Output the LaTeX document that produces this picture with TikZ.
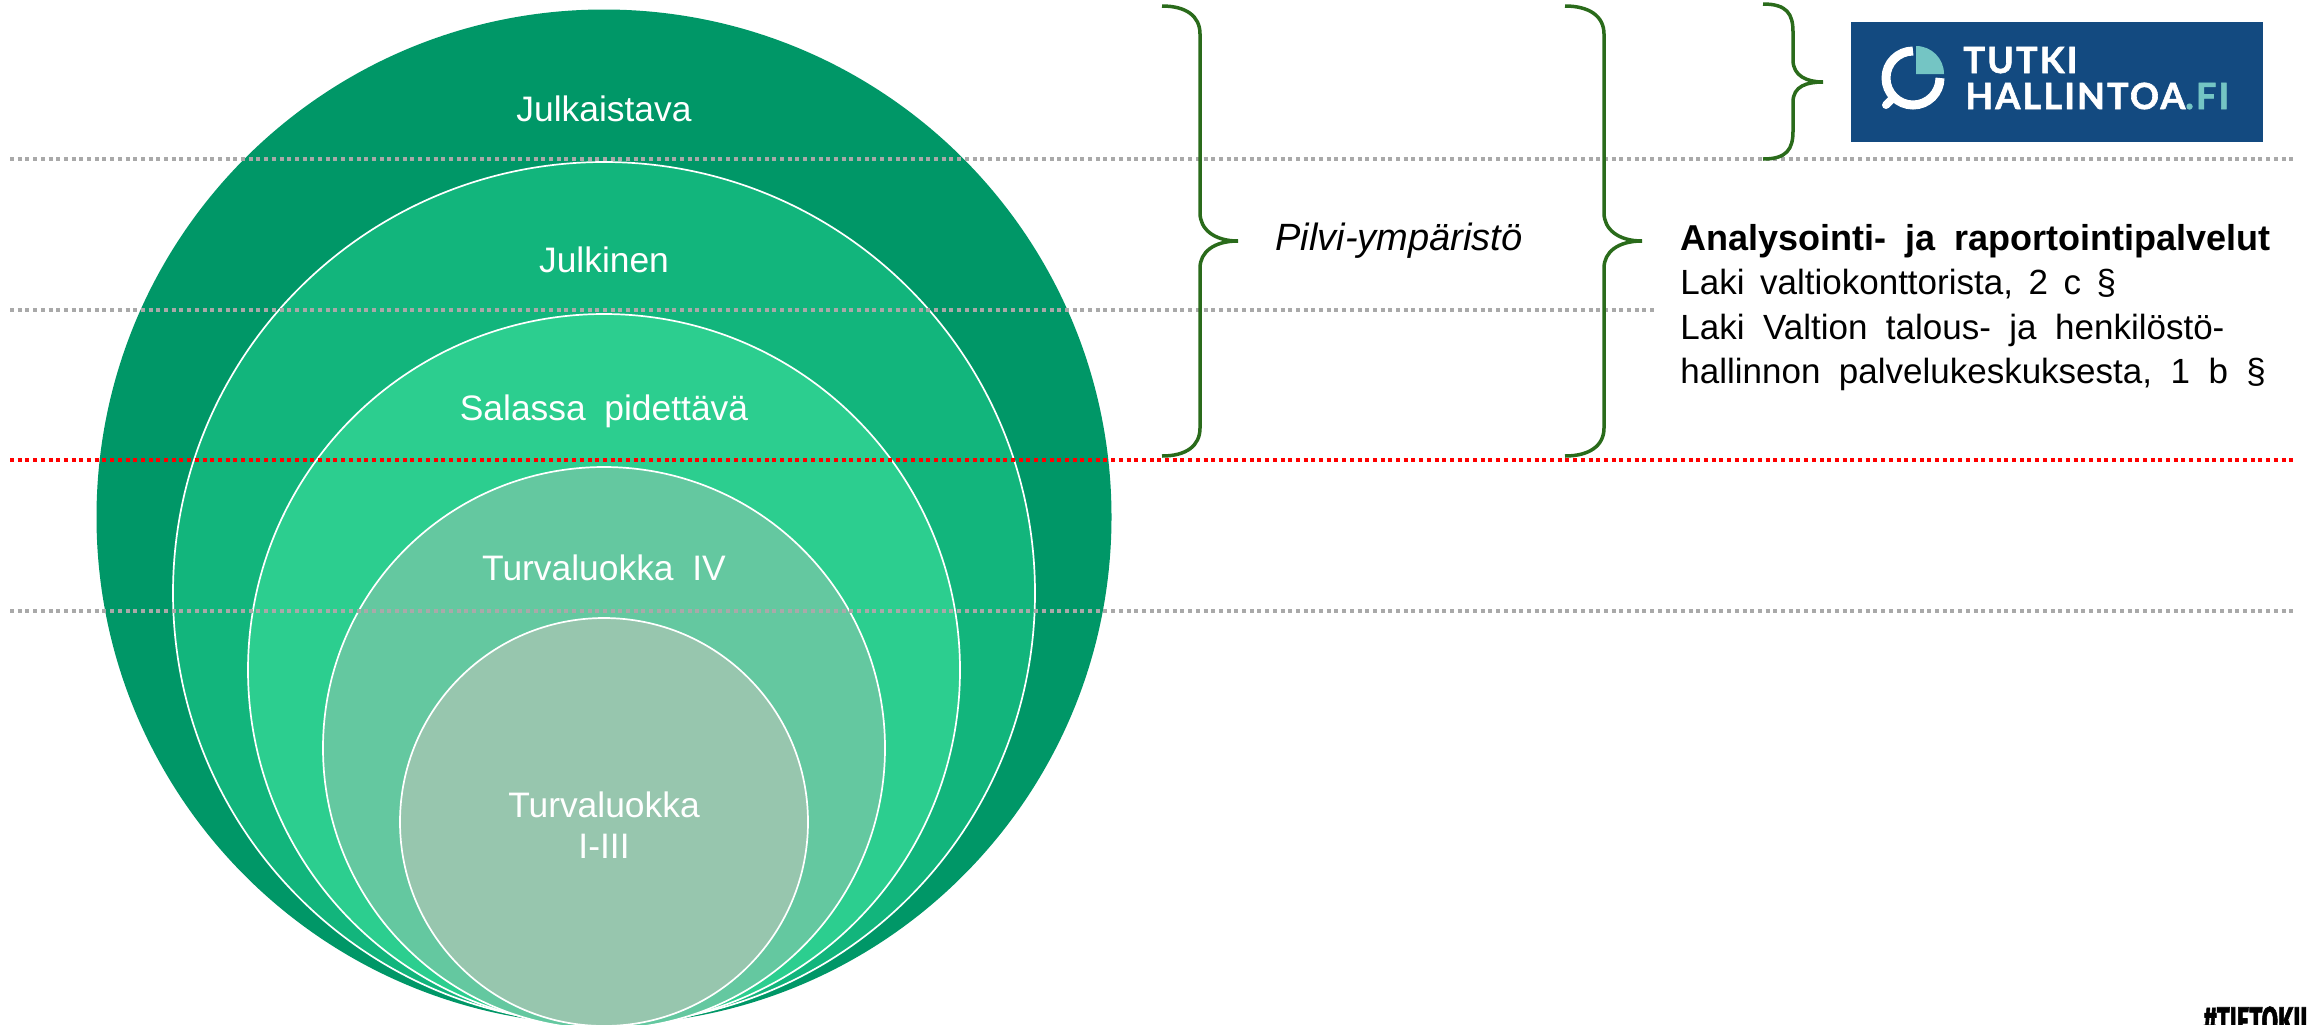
\documentclass[tikz,border=0pt]{standalone}
\usepackage{graphicx}
\usepackage{fontspec}
\setmainfont{Liberation Sans}[WordSpace=1.9]
\newfontfamily\bodyfont{Liberation Sans}[WordSpace=1.6]
\newfontfamily\logofont{Lato}[LetterSpace=6,BoldFeatures={FakeBold=1.6}]
\newfontfamily\tagfont{Fira Sans}[BoldFeatures={FakeBold=2}]
\definecolor{ringA}{HTML}{009767}
\definecolor{ringB}{HTML}{12B57C}
\definecolor{ringC}{HTML}{2CCE8F}
\definecolor{ringD}{HTML}{64C8A0}
\definecolor{ringE}{HTML}{97C6AE}
\definecolor{bracegreen}{HTML}{2A6B1B}
\definecolor{logoblue}{HTML}{134A80}
\definecolor{logoteal}{HTML}{74C5C4}
\definecolor{dotgray}{HTML}{A9A9A9}
\tikzset{
  x=0.5pt,y=-0.5pt,
  ring/.style={circle,inner sep=0pt,draw=white,line width=0.85pt},
  dotline/.style={line width=2pt,dash pattern=on 2pt off 1.85pt},
  curly/.style={bracegreen,line width=1.75pt,line cap=butt},
  lab/.style={text=white,font=\fontsize{17.7}{20.5}\selectfont,align=center,inner sep=0pt},
  txt/.style={text=black,font=\fontsize{17.5}{22.2}\selectfont,align=left,inner sep=0pt},
}
\newcommand{\bracepath}[8]{% x0 xs xt ytop y1 ymid y2 ybot
  \draw[curly] (#1,#4) .. controls (#1+24,#4) and (#2,#4+10) .. (#2,#4+28)
    -- (#2,#5) .. controls (#2,#5+16) and (#2+14,#6) .. (#3,#6)
    .. controls (#2+14,#6) and (#2,#7-16) .. (#2,#7)
    -- (#2,#8-28) .. controls (#2,#8-10) and (#1+24,#8) .. (#1,#8);
}
\begin{document}
\begin{tikzpicture}
\useasboundingbox (0,0) rectangle (2313,1024);
\clip (0,0) rectangle (2313,1024);
\node[ring,fill=ringA,draw=none,minimum size=1015*0.5pt] (c1) at (604,517) {};
\node[ring,fill=ringB,minimum size=862*0.5pt] (c2) at (604,593) {};
\node[ring,fill=ringC,minimum size=712*0.5pt] (c3) at (604,670) {};
\node[ring,fill=ringD,minimum size=562*0.5pt] (c4) at (604,748) {};
\node[ring,fill=ringE,minimum size=408*0.5pt] (c5) at (604,822) {};
\draw[dotline,dotgray] (10,159) -- (2295,159);
\draw[dotline,dotgray] (10,310) -- (1657,310);
\draw[dotline,red] (10,460) -- (2295,460);
\draw[dotline,dotgray] (10,611) -- (2295,611);
\node[lab] (t1) at (604,109) {Julkaistava};
\node[lab] (t2) at (604,260) {Julkinen};
\node[lab] (t3) at (604,411) {Salassa pidettävä};
\node[lab] (t4) at (604,568) {Turvaluokka IV};
\node[lab] (t5) at (604,825) {Turvaluokka\\I-III};
\bracepath{1162}{1200}{1238}{6}{213}{241}{268}{456}
\bracepath{1565}{1604}{1642}{6}{213}{241}{268}{456}
\bracepath{1763}{1793}{1823}{4}{60}{82}{102}{159}
\node[txt,font=\fontsize{19}{22}\selectfont\itshape] (p) at (1399,241) {Pilvi-ympäristö};
\node[txt,anchor=north west] (a) at (1680,224) {{\fontsize{18}{22.2}\selectfont\textbf{Analysointi- ja raportointipalvelut}}\\\bodyfont Laki valtiokonttorista, 2 c §\\Laki Valtion talous- ja henkilöstö-\\hallinnon palvelukeskuksesta, 1 b §};
\fill[logoblue] (1851,22) rectangle (2263,142);
\draw[white,line width=4.5pt] (1913,51) arc[start angle=-90,end angle=-360,radius=27];
\draw[white,line width=4pt,line cap=round] (1891,100) -- (1886,105);
\fill[logoteal] (1916,74) -- (1916,46) arc[start angle=-90,end angle=0,radius=28] -- cycle;
\node[anchor=base west,inner sep=0pt,text=white,font=\fontsize{18}{18}\logofont\bfseries] (l1) at (1963,73) {TUTKI};
\node[anchor=base west,inner sep=0pt,text=white,font=\fontsize{18}{18}\logofont\bfseries] (l2) at (1965,109) {HALLINTOA\textcolor{logoteal}{.FI}};
\node[anchor=base west,inner sep=0pt] (tag) at (2203,1035) {\scalebox{0.6}[1]{\fontsize{20}{20}\tagfont\bfseries\#TIETOKIL}};
\end{tikzpicture}
\end{document}
